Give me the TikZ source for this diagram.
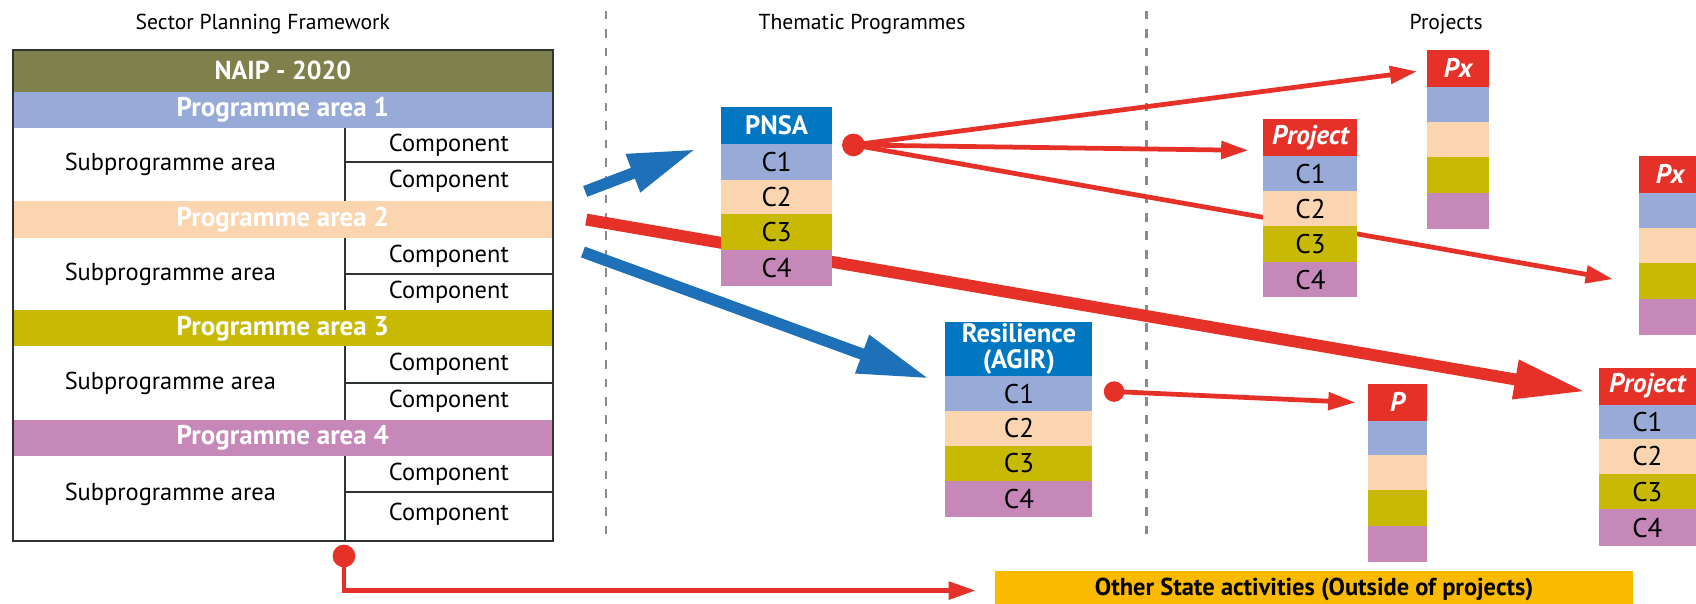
\documentclass[tikz,border=0pt]{standalone}
\usepackage{fontspec}
\setmainfont{PT Sans}
\usetikzlibrary{arrows.meta}
\definecolor{naip}{HTML}{7F804C}
\definecolor{pa1}{HTML}{98ABD8}
\definecolor{pa2}{HTML}{FBD5B0}
\definecolor{pa3}{HTML}{C8B904}
\definecolor{pa4}{HTML}{C588B8}
\definecolor{hblue}{HTML}{0077C0}
\definecolor{ablue}{HTML}{1E70B8}
\definecolor{pred}{HTML}{E53127}
\definecolor{amber}{HTML}{FBB900}
\definecolor{divgray}{HTML}{8A8A8A}
\definecolor{border}{HTML}{2E3436}
\newcommand\cell[8][]{\node[cellbox,minimum width={(#5-#3)*0.5pt},minimum height={(#6-#4)*0.5pt},fill=#7,#1] (#2) at ({(#3+#5)/2},{(#4+#6)/2}) {#8};}
\begin{document}
\begin{tikzpicture}[x=0.5pt,y=-0.5pt,
  cellbox/.style={inner sep=0pt,outer sep=0pt,font=\fontsize{11.3}{13}\selectfont,text=black},
  clabel/.style={font=\fontsize{12.5}{14}\selectfont},
  band/.style={font=\fontsize{12.5}{14}\selectfont\bfseries,text=white},
  hdr/.style={font=\fontsize{12.3}{12}\selectfont\bfseries,text=white,align=center},
  projhdr/.style={font=\fontsize{12.5}{14}\selectfont\bfseries\itshape,text=white},
  title/.style={font=\fontsize{10}{12}\selectfont,inner sep=0pt},
  dot/.style={circle,fill=pred,inner sep=0pt,minimum size=10.5pt},
  thinred/.style={draw=pred,line width=2.2pt,-{Triangle[length=12.5pt,width=8pt]}},
  thickred/.style={draw=pred,line width=5.5pt,-{Triangle[length=33pt,width=17pt]}},
  bluearrow/.style={draw=ablue,line width=5.3pt,-{Triangle[length=31pt,width=17.5pt]}},
  divider/.style={draw=divgray,line width=1pt,dash pattern=on 4pt off 4.5pt},
  tableline/.style={draw=border,line width=1pt}]
\useasboundingbox (0,0) rectangle (1568,558);
\begin{scope}
\clip (0,0) rectangle (1568,558);
% titles
\node[title] (t1) at (243,22) {Sector Planning Framework};
\node[title] (t2) at (797,22) {Thematic Programmes};
\node[title] (t3) at (1337,22) {Projects};
% dividers
\coordinate (dv1a) at (560,10); \coordinate (dv1b) at (560,500);
\coordinate (dv2a) at (1060,10); \coordinate (dv2b) at (1060,500);
\draw[divider] (dv1a) -- (dv1b);
\draw[divider] (dv2a) -- (dv2b);
% left table
\cell[band,font=\fontsize{12}{14}\selectfont\bfseries]{naipb}{12}{46}{511}{85}{naip}{NAIP - 2020}
\cell[band]{pa1b}{12}{85}{511}{118}{pa1}{Programme area 1}
\cell{sub1}{12}{118}{319}{186}{white}{\hspace*{-8pt}Subprogramme area}
\cell{c11}{319}{118}{511}{150}{white}{Component}
\cell{c12}{319}{150}{511}{186}{white}{Component}
\cell[band]{pa2b}{12}{186}{511}{220}{pa2}{Programme area 2}
\cell{sub2}{12}{220}{319}{287}{white}{\hspace*{-8pt}Subprogramme area}
\cell{c21}{319}{220}{511}{253}{white}{Component}
\cell{c22}{319}{253}{511}{287}{white}{Component}
\cell[band]{pa3b}{12}{287}{511}{320}{pa3}{Programme area 3}
\cell{sub3}{12}{320}{319}{388}{white}{\hspace*{-8pt}Subprogramme area}
\cell{c31}{319}{320}{511}{354}{white}{Component}
\cell{c32}{319}{354}{511}{388}{white}{Component}
\cell[band]{pa4b}{12}{388}{511}{422}{pa4}{Programme area 4}
\cell[text depth=6pt]{sub4}{12}{422}{319}{500}{white}{\hspace*{-8pt}Subprogramme area}
\cell{c41}{319}{422}{511}{455}{white}{Component}
\cell[text depth=4pt]{c42}{319}{455}{511}{500}{white}{Component}
\draw[tableline] (c11.north west) -- (c12.south west);
\draw[tableline] (c21.north west) -- (c22.south west);
\draw[tableline] (c31.north west) -- (c32.south west);
\draw[tableline] (c41.north west) -- (c42.south west);
\draw[tableline] (c11.south west) -- (c11.south east);
\draw[tableline] (c21.south west) -- (c21.south east);
\draw[tableline] (c31.south west) -- (c31.south east);
\draw[tableline] (c41.south west) -- (c41.south east);
\draw[tableline] (naipb.north west) rectangle (c42.south east);
% dots
\node[dot] (d0) at (318,514) {};
\node[dot] (d1) at (789,134) {};
\node[dot,minimum size=9.5pt] (d2) at (1030,362) {};
% arrow end points
\coordinate (b1s) at (541,177); \coordinate (b1e) at (643,138);
\coordinate (b2s) at (539,233); \coordinate (b2e) at (859,350);
\coordinate (r1s) at (542,203); \coordinate (r1e) at (1466,362);
\coordinate (e1) at (1310,66);
\coordinate (e2) at (1154,139);
\coordinate (e3) at (1491,258);
\coordinate (e4) at (1253,372);
\coordinate (e5) at (902,546);
% arrows
\draw[thickred] (r1s) -- (r1e);
\draw[bluearrow] (b1s) -- (b1e);
\draw[bluearrow,-{Triangle[length=33pt,width=17.5pt]}] (b2s) -- (b2e);
\draw[thinred] (d1.center) -- (e1);
\draw[thinred] (d1.center) -- (e2);
\draw[thinred] (d1.center) -- (e3);
\draw[thinred] (d2.center) -- (e4);
\draw[thinred] (d0.center) |- (e5);
% PNSA
\cell[hdr]{pnsa}{667}{99}{769}{133}{hblue}{PNSA}
\cell[clabel]{pn1}{667}{133}{769}{166}{pa1}{C1}
\cell[clabel]{pn2}{667}{166}{769}{198}{pa2}{C2}
\cell[clabel]{pn3}{667}{198}{769}{231}{pa3}{C3}
\cell[clabel]{pn4}{667}{231}{769}{264}{pa4}{C4}
% Resilience
\cell[hdr]{res}{874}{298}{1010}{348}{hblue}{Resilience\\(AGIR)}
\cell[clabel]{rs1}{874}{348}{1010}{380}{pa1}{C1}
\cell[clabel]{rs2}{874}{380}{1010}{412}{pa2}{C2}
\cell[clabel]{rs3}{874}{412}{1010}{445}{pa3}{C3}
\cell[clabel]{rs4}{874}{445}{1010}{478}{pa4}{C4}
% Project middle
\cell[projhdr]{prm}{1168}{110}{1255}{144}{pred}{Project}
\cell[clabel]{pm1}{1168}{144}{1255}{177}{pa1}{C1}
\cell[clabel]{pm2}{1168}{177}{1255}{209}{pa2}{C2}
\cell[clabel]{pm3}{1168}{209}{1255}{242}{pa3}{C3}
\cell[clabel]{pm4}{1168}{242}{1255}{275}{pa4}{C4}
% Px top
\cell[projhdr]{pxa}{1319}{46}{1377}{80}{pred}{Px}
\cell{pxa1}{1319}{80}{1377}{113}{pa1}{}
\cell{pxa2}{1319}{113}{1377}{145}{pa2}{}
\cell{pxa3}{1319}{145}{1377}{178}{pa3}{}
\cell{pxa4}{1319}{178}{1377}{212}{pa4}{}
% Px right
\cell[projhdr]{pxb}{1515}{144}{1573}{178}{pred}{Px}
\cell{pxb1}{1515}{178}{1573}{211}{pa1}{}
\cell{pxb2}{1515}{211}{1573}{243}{pa2}{}
\cell{pxb3}{1515}{243}{1573}{276}{pa3}{}
\cell{pxb4}{1515}{276}{1573}{310}{pa4}{}
% P
\cell[projhdr]{pp}{1265}{355}{1319}{389}{pred}{P}
\cell{pp1}{1265}{389}{1319}{421}{pa1}{}
\cell{pp2}{1265}{421}{1319}{453}{pa2}{}
\cell{pp3}{1265}{453}{1319}{486}{pa3}{}
\cell{pp4}{1265}{486}{1319}{520}{pa4}{}
% Project right
\cell[projhdr]{prr}{1478}{340}{1568}{374}{pred}{Project}
\cell[clabel]{pr1}{1478}{374}{1568}{406}{pa1}{C1}
\cell[clabel]{pr2}{1478}{406}{1568}{438}{pa2}{C2}
\cell[clabel]{pr3}{1478}{438}{1568}{471}{pa3}{C3}
\cell[clabel]{pr4}{1478}{471}{1568}{505}{pa4}{C4}
% Other state activities
\cell{osa}{920}{528}{1510}{564}{amber}{}
\node[font=\fontsize{11.3}{13}\selectfont\bfseries,inner sep=0pt] (osat) at (1215,545) {Other State activities (Outside of projects)};
\end{scope}
\end{tikzpicture}
\end{document}
